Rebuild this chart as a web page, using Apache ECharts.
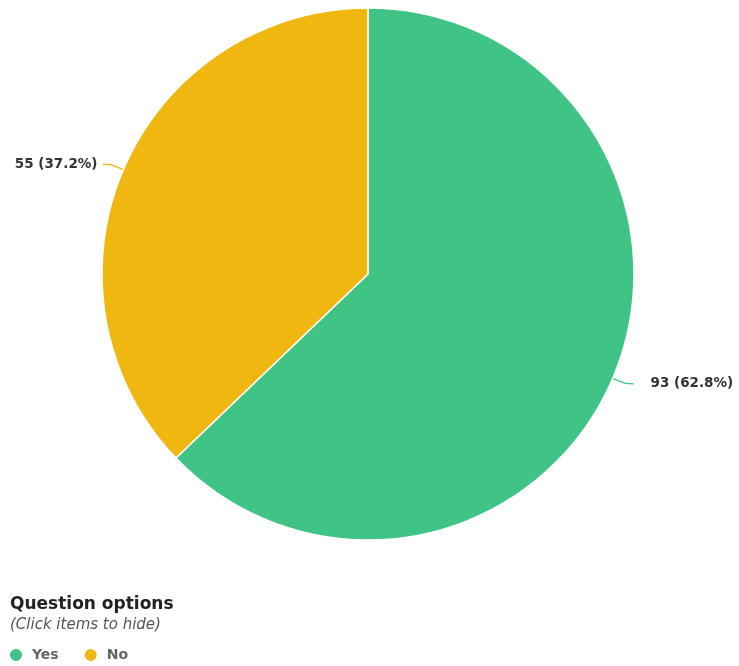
<!DOCTYPE html>
<html>
<head>
<meta charset="utf-8">
<script src="https://cdn.jsdelivr.net/npm/echarts@6/dist/echarts.min.js"></script>
<style>
html,body{margin:0;padding:0;background:#fff;}
#chart{width:739px;height:666px;}
</style>
</head>
<body>
<div id="chart"></div>
<script>
var names = ['Yes', 'No'];
var counts = [93, 55];
var colors = ['#40C485', '#F1B711'];

var total = counts.reduce(function(a, b){ return a + b; }, 0);
var data = [];
for (var i = 0; i < names.length; i++) {
    data.push({ name: names[i], value: counts[i], itemStyle: { color: colors[i] } });
}

var myChart = echarts.init(document.getElementById('chart'));
myChart.setOption({
    animation: false,
    textStyle: { fontFamily: 'DejaVu Sans' },
    title: {
        text: 'Question options',
        subtext: '(Click items to hide)',
        left: 5,
        top: 595,
        padding: [0, 5, 0, 5],
        itemGap: 3,
        textStyle: { fontSize: 17, fontWeight: 'bold', color: '#222', fontFamily: 'DejaVu Sans', lineHeight: 19 },
        subtextStyle: { fontSize: 15, fontStyle: 'italic', color: '#555', fontFamily: 'DejaVu Sans', lineHeight: 17 }
    },
    legend: {
        left: 3,
        top: 647,
        padding: [0, 5, 0, 5],
        icon: 'circle',
        itemWidth: 14,
        itemHeight: 14,
        itemGap: 24,
        textStyle: { color: '#666', fontSize: 14, fontWeight: 'bold', fontFamily: 'DejaVu Sans', padding: [0, 0, 0, 4] },
        data: names
    },
    series: [{
        type: 'pie',
        center: [368, 274],
        radius: [0, 266],
        startAngle: 90,
        clockwise: true,
        itemStyle: { borderColor: '#fff', borderWidth: 1.5 },
        label: {
            show: true,
            position: 'outside',
            color: '#333',
            fontSize: 13.5,
            fontWeight: 'bold',
            fontFamily: 'DejaVu Sans',
            overflow: 'none',
            padding: [0, 0, 0, 12],
            formatter: function (p) {
                return p.value + ' (' + (p.value / total * 100).toFixed(1) + '%)';
            }
        },
        labelLine: {
            show: true,
            length: 14,
            length2: 8,
            smooth: true,
            lineStyle: { width: 1.3 }
        },
        emphasis: { disabled: true },
        data: data
    }]
});
</script>
</body>
</html>
